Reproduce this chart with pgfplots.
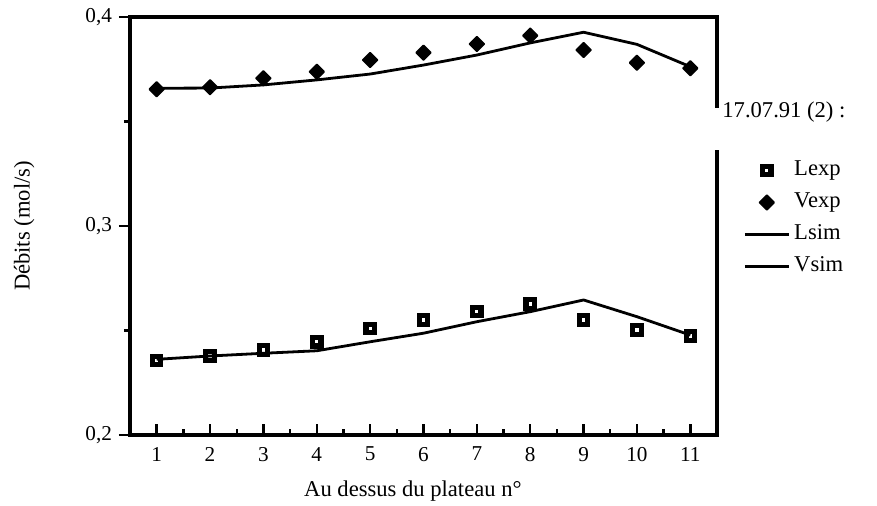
\documentclass[border=0pt]{standalone}
\usepackage{pgfplots}
\pgfplotsset{compat=1.18}
\usepackage{fontspec}
\setmainfont{Liberation Serif}

\pgfplotstableread{
x    Lexp    Vexp    Lsim    Vsim
1    0.2356  0.3654  0.2362  0.3659
2    0.2378  0.3664  0.2378  0.3660
3    0.2407  0.3707  0.2391  0.3675
4    0.2446  0.3738  0.2403  0.3699
5    0.2510  0.3794  0.2446  0.3727
6    0.2550  0.3829  0.2487  0.3770
7    0.2590  0.3871  0.2542  0.3818
8    0.2627  0.3911  0.2590  0.3876
9    0.2550  0.3842  0.2646  0.3927
10   0.2502  0.3781  0.2566  0.3869
11   0.2474  0.3755  0.2478  0.3762
}\debits

\begin{document}
\begin{tikzpicture}[font=\fontsize{11.3}{13}\selectfont]
\useasboundingbox (-65pt,-35.5pt) rectangle (373.5pt,217.5pt);
\begin{axis}[
  scale only axis,
  width=293.5pt, height=209pt,
  xmin=0.5, xmax=11.5,
  ymin=0.2, ymax=0.4,
  xtick={1,...,11}, minor x tick num=1,
  ytick={0.2,0.3,0.4}, minor y tick num=1,
  xtick pos=bottom, ytick pos=left,
  xtick align=inside, ytick align=outside,
  axis line style={line width=1.6pt},
  every tick/.style={black, line width=1.2pt},
  major tick length=5.5pt, minor tick length=3pt,
  /pgf/number format/assume math mode=true,
  tick label style={font=\fontsize{10.6}{12}\selectfont},
  xticklabel style={yshift=-2.5pt},
  yticklabel style={/pgf/number format/.cd, fixed, fixed zerofill, precision=1, use comma},
  xlabel={Au dessus du plateau n°},
  ylabel={Débits (mol/s)},
  xlabel style={at={(axis description cs:0.482,-0.146)}, anchor=base},
  ylabel style={at={(axis description cs:-0.171,0.5)}, anchor=base},
  legend image code/.code={\draw[mark repeat=2,mark phase=2,#1] plot coordinates {(0pt,0pt) (11pt,0pt) (22pt,0pt)};},
  legend style={at={(axis description cs:1.0443,0.518)}, anchor=west, draw=none, fill=none,
    inner sep=0pt, row sep=2pt, cells={anchor=west},
    nodes={inner sep=2pt, text height=7.6pt, text depth=2.4pt}},
]
\addplot[only marks, mark=square, mark size=2.1pt, mark options={line width=2.6pt, black}] table[x=x, y=Lexp] {\debits};
\addlegendentry{Lexp}
\addplot[only marks, mark=square*, mark size=2.6pt, mark options={rotate=45, black, fill=black, line join=round, line width=0.8pt}] table[x=x, y=Vexp] {\debits};
\addlegendentry{Vexp}
\addplot[black, line width=1.4pt, no marks] table[x=x, y=Lsim] {\debits};
\addlegendentry{Lsim}
\addplot[black, line width=1.4pt, no marks] table[x=x, y=Vsim] {\debits};
\addlegendentry{Vsim}
\end{axis}
\fill[white] (290pt,142.5pt) rectangle (296pt,163.5pt);
\node[anchor=base west, inner sep=0pt] at (296pt,158.5pt) {17.07.91 (2) :};
\end{tikzpicture}
\end{document}
